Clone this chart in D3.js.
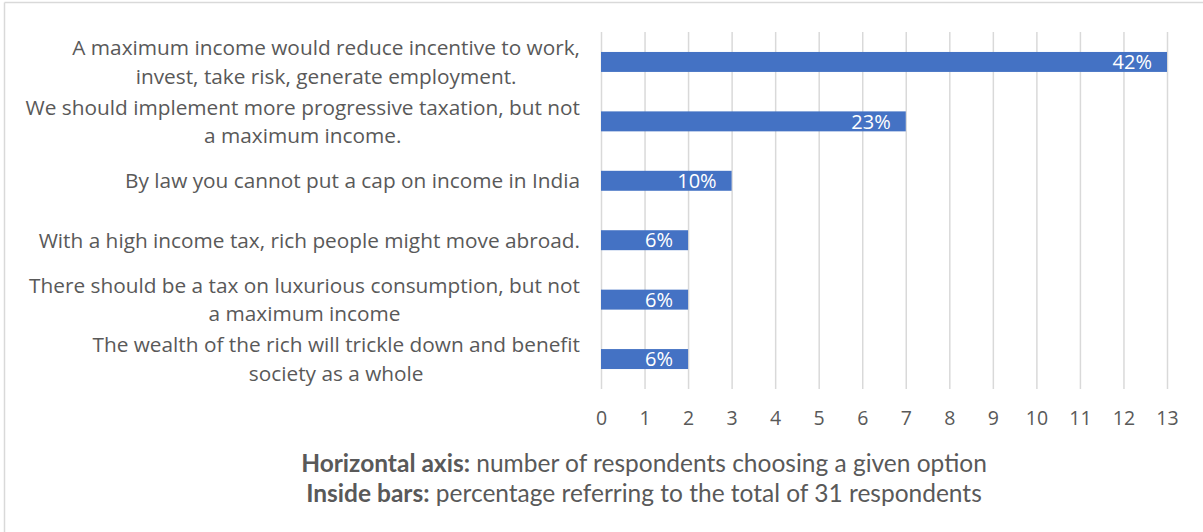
<!DOCTYPE html>
<html>
<head>
<meta charset="utf-8">
<script src="https://cdn.jsdelivr.net/npm/d3@7"></script>
<style>
  html, body { margin: 0; padding: 0; background: #fff; }
  svg { display: block; }
</style>
</head>
<body>
<svg id="chart" width="1203" height="532"></svg>
<script>
// Reasons given against a maximum income (top to bottom)
const categories = [
  "A maximum income would reduce incentive to work,\ninvest, take risk, generate employment.",
  "We should implement more progressive taxation, but not\na maximum income.",
  "By law you cannot put a cap on income in India",
  "With a high income tax, rich people might move abroad.",
  "There should be a tax on luxurious consumption, but not\na maximum income",
  "The wealth of the rich will trickle down and benefit\nsociety as a whole"
];
// Number of respondents choosing each option
const counts = [13, 7, 3, 2, 2, 2];
// Share of the 31 respondents, shown inside the bars
const percentLabels = ["42%", "23%", "10%", "6%", "6%", "6%"];
// Horizontal axis ticks
const xTicks = [0, 1, 2, 3, 4, 5, 6, 7, 8, 9, 10, 11, 12, 13];

const svg = d3.select("#chart");
const W = 1203, H = 532;

// Chart frame (top and left edges)
svg.append("line").attr("x1", 4.5).attr("x2", W).attr("y1", 2.5).attr("y2", 2.5)
  .attr("stroke", "#d9d9d9").attr("stroke-width", 1.5);
svg.append("line").attr("x1", 4.5).attr("x2", 4.5).attr("y1", 2.5).attr("y2", H)
  .attr("stroke", "#d9d9d9").attr("stroke-width", 1.5);

const plot = { left: 601, right: 1167, top: 32, bottom: 389 };

const x = d3.scaleLinear().domain([0, 13]).range([plot.left, plot.right]);
const y = d3.scaleBand().domain(categories).range([plot.top, plot.bottom])
  .paddingInner(0.664).paddingOuter(0.336);

// Vertical gridlines
const grid = svg.append("g")
  .attr("transform", `translate(0,${plot.bottom})`)
  .call(d3.axisBottom(x).tickValues(xTicks).tickSize(-(plot.bottom - plot.top)).tickFormat(""));
grid.select(".domain").remove();
grid.selectAll(".tick line").attr("stroke", "#d9d9d9").attr("stroke-width", 1.5);

// Tick labels
const axis = svg.append("g")
  .attr("transform", `translate(0,${plot.bottom})`)
  .call(d3.axisBottom(x).tickValues(xTicks).tickSize(0).tickPadding(0).tickFormat(d3.format("d")));
axis.select(".domain").remove();
axis.selectAll(".tick text")
  .attr("y", 36).attr("dy", 0)
  .attr("fill", "#595959")
  .style("font-family", "'Open Sans', sans-serif")
  .style("font-size", "19.5px");

// Bars
svg.append("g").selectAll("rect").data(counts).join("rect")
  .attr("x", x(0))
  .attr("y", (d, i) => y(categories[i]))
  .attr("width", d => x(d) - x(0))
  .attr("height", y.bandwidth())
  .attr("fill", "#4472c4");

// Percentage labels at the inside end of each bar
svg.append("g").selectAll("text").data(counts).join("text")
  .attr("x", d => x(d) - 15)
  .attr("y", (d, i) => y(categories[i]) + y.bandwidth() / 2)
  .attr("dy", "0.36em")
  .attr("text-anchor", "end")
  .attr("fill", "#ffffff")
  .style("font-family", "'Open Sans', sans-serif")
  .style("font-size", "20px")
  .text((d, i) => percentLabels[i]);

// Category labels: each line centred within a block whose right edge sits left of the plot
const lineH = 28.5;
const labelRight = 580;
const labelG = svg.append("g");
categories.forEach(cat => {
  const lines = cat.split("\n");
  const cy = y(cat) + y.bandwidth() / 2;
  const t = labelG.append("text")
    .attr("fill", "#595959")
    .style("font-family", "'Open Sans', sans-serif")
    .style("font-size", "20.8px")
    .attr("text-anchor", "middle");
  lines.forEach((ln, k) => {
    t.append("tspan")
      .attr("y", cy + (k - (lines.length - 1) / 2) * lineH)
      .attr("dy", "0.36em")
      .text(ln);
  });
  const widths = t.selectAll("tspan").nodes().map(n => n.getComputedTextLength());
  const maxW = d3.max(widths);
  t.selectAll("tspan").attr("x", labelRight - maxW / 2);
});

// Notes below the axis
const notes = [
  { bold: "Horizontal axis:", rest: " number of respondents choosing a given option", y: 472 },
  { bold: "Inside bars:", rest: " percentage referring to the total of 31 respondents", y: 502 }
];
notes.forEach(n => {
  const t = svg.append("text")
    .attr("x", 644).attr("y", n.y)
    .attr("text-anchor", "middle")
    .attr("fill", "#595959")
    .style("font-family", "Lato, sans-serif")
    .style("font-size", "24.5px");
  t.append("tspan").style("font-weight", "bold").text(n.bold);
  t.append("tspan").text(n.rest);
});
</script>
</body>
</html>
